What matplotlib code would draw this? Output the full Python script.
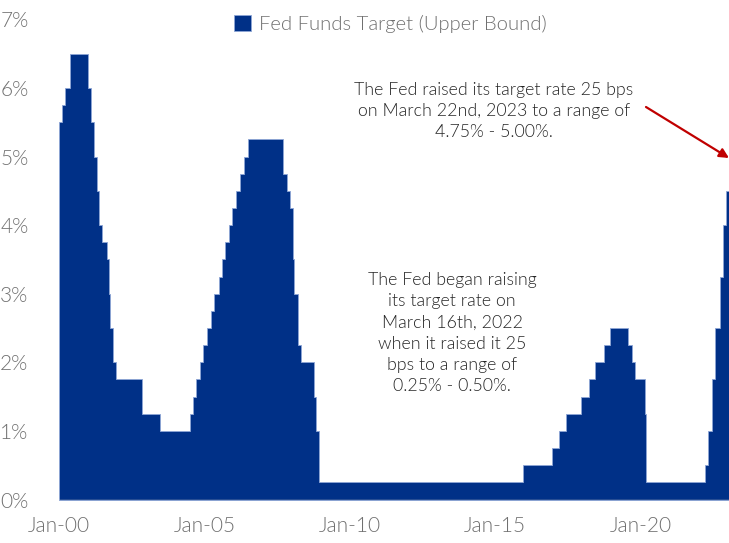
import matplotlib
matplotlib.use('Agg')
import matplotlib.pyplot as plt
import matplotlib.dates as mdates
import numpy as np

# Fed funds target (upper bound), one entry per change of the target
changeDates = ['2000-01-01', '2000-02-02', '2000-03-21', '2000-05-16', '2001-01-03',
               '2001-01-31', '2001-03-20', '2001-04-18', '2001-05-15', '2001-06-27',
               '2001-08-21', '2001-09-17', '2001-10-02', '2001-11-06', '2001-12-11',
               '2002-11-06', '2003-06-25', '2004-06-30', '2004-08-10', '2004-09-21',
               '2004-11-10', '2004-12-14', '2005-02-02', '2005-03-22', '2005-05-03',
               '2005-06-30', '2005-08-09', '2005-09-20', '2005-11-01', '2005-12-13',
               '2006-01-31', '2006-03-28', '2006-05-10', '2006-06-29', '2007-09-18',
               '2007-10-31', '2007-12-11', '2008-01-22', '2008-01-30', '2008-03-18',
               '2008-04-30', '2008-10-08', '2008-10-29', '2008-12-16', '2015-12-16',
               '2016-12-14', '2017-03-15', '2017-06-14', '2017-12-13', '2018-03-21',
               '2018-06-13', '2018-09-26', '2018-12-19', '2019-07-31', '2019-09-18',
               '2019-10-30', '2020-03-03', '2020-03-15', '2022-03-16', '2022-05-04',
               '2022-06-15', '2022-07-27', '2022-09-21', '2022-11-02', '2022-12-14',
               '2023-02-01']
targetRate = [5.50, 5.75, 6.00, 6.50, 6.00,
              5.50, 5.00, 4.50, 4.00, 3.75,
              3.50, 3.00, 2.50, 2.00, 1.75,
              1.25, 1.00, 1.25, 1.50, 1.75,
              2.00, 2.25, 2.50, 2.75, 3.00,
              3.25, 3.50, 3.75, 4.00, 4.25,
              4.50, 4.75, 5.00, 5.25, 4.75,
              4.50, 4.25, 3.50, 3.00, 2.25,
              2.00, 1.50, 1.00, 0.25, 0.50,
              0.75, 1.00, 1.25, 1.50, 1.75,
              2.00, 2.25, 2.50, 2.25, 2.00,
              1.75, 1.25, 0.25, 0.50, 1.00,
              1.75, 2.50, 3.25, 4.00, 4.50,
              4.50]

yTicks = [0, 1, 2, 3, 4, 5, 6, 7]
legendLabel = 'Fed Funds Target (Upper Bound)'
note2023 = 'The Fed raised its target rate 25 bps\non March 22nd, 2023 to a range of\n4.75% - 5.00%.'
note2022 = ('The Fed began raising\nits target rate on\nMarch 16th, 2022\n'
            'when it raised it 25\nbps to a range of\n0.25% - 0.50%.')

navy = '#003087'
grey = '#707070'
textsize = 15
notesize = 12.8
plt.rcParams['font.family'] = ['Lato', 'DejaVu Sans']
plt.rcParams['font.weight'] = 300

dates = np.array(changeDates, dtype='datetime64[D]')

fig = plt.figure(figsize=(7.29, 5.43), dpi=100)
ax = fig.add_axes([59/729, 43.5/543, 670/729, 480.2/543])

ax.fill_between(dates, 0, targetRate, step='post', facecolor=navy,
                edgecolor='#8ea6d6', linewidth=0.6, label=legendLabel)
ax.axhline(0, color='#c8c8c8', linewidth=1.0)

ax.set_xlim(np.datetime64('2000-01-01'), np.datetime64('2023-01-17'))
ax.set_ylim(0, 7)
ax.set_yticks(yTicks)
ax.set_yticklabels(['%d%%' % t for t in yTicks])
ax.xaxis.set_major_locator(mdates.YearLocator(5))
ax.xaxis.set_major_formatter(mdates.DateFormatter('%b-%y'))
ax.tick_params(axis='both', length=0, labelsize=textsize, labelcolor=grey)
ax.tick_params(axis='x', pad=12)
ax.tick_params(axis='y', pad=22)
for s in ax.spines.values():
    s.set_visible(False)

fig.legend(loc='center left', bbox_to_anchor=(216/729, 1 - 24/543), frameon=False,
           fontsize=14.6, handlelength=0.85, handleheight=0.85,
           handletextpad=0.35, labelcolor=grey)

fig.text(494/729, 1 - 111/543, note2023, ha='center', va='center',
         fontsize=notesize, color='#262626', linespacing=1.35)
fig.text(452/729, 1 - 333/543, note2022, ha='center', va='center',
         fontsize=notesize, color='#262626', linespacing=1.4)

ax.annotate('', xy=(729/729, 1 - 158/543), xytext=(646/729, 1 - 107/543),
            xycoords='figure fraction', textcoords='figure fraction',
            arrowprops=dict(arrowstyle='-|>', color='#c00000', lw=1.6,
                            mutation_scale=14, shrinkA=0, shrinkB=0))

plt.savefig('out.png', dpi=100)
